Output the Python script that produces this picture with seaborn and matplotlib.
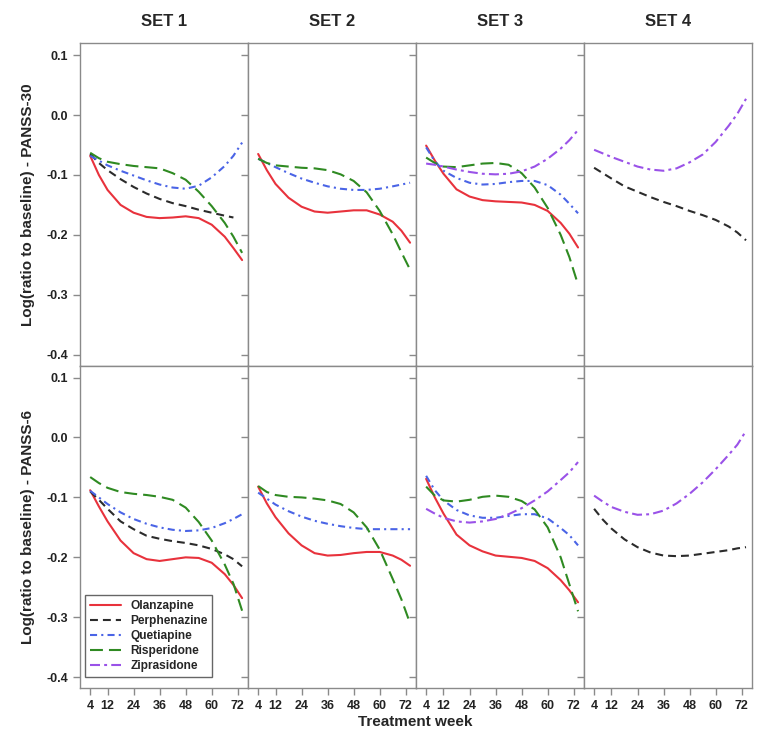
import matplotlib
matplotlib.use("Agg")
import matplotlib.pyplot as plt
import seaborn as sns
import numpy as np
import pandas as pd
from matplotlib.lines import Line2D

# treatment weeks at which the fitted curves were read
weeks = [4, 8, 12, 18, 24, 30, 36, 42, 48, 54, 60, 66, 70, 74]
sets = ["SET 1", "SET 2", "SET 3", "SET 4"]
drugs = ["Olanzapine", "Perphenazine", "Quetiapine", "Risperidone", "Ziprasidone"]
scales = ["PANSS-30", "PANSS-6"]

# PANSS-30 curves
p30_set1 = {
    "Olanzapine":   [-0.068, -0.100, -0.125, -0.150, -0.163, -0.170, -0.172, -0.171, -0.169, -0.172, -0.183, -0.203, -0.222, -0.242],
    "Perphenazine": [-0.065, -0.080, -0.092, -0.107, -0.120, -0.131, -0.140, -0.147, -0.152, -0.158, -0.163, -0.168, -0.171, np.nan],
    "Quetiapine":   [-0.068, -0.076, -0.084, -0.093, -0.101, -0.109, -0.116, -0.121, -0.123, -0.118, -0.104, -0.085, -0.068, -0.046],
    "Risperidone":  [-0.063, -0.072, -0.078, -0.082, -0.085, -0.087, -0.089, -0.097, -0.108, -0.128, -0.152, -0.180, -0.203, -0.230],
}
p30_set2 = {
    "Olanzapine":   [-0.065, -0.092, -0.115, -0.138, -0.153, -0.161, -0.163, -0.161, -0.159, -0.159, -0.166, -0.178, -0.193, -0.213],
    "Quetiapine":   [-0.073, -0.080, -0.087, -0.097, -0.106, -0.113, -0.119, -0.123, -0.125, -0.125, -0.123, -0.119, -0.116, -0.113],
    "Risperidone":  [-0.073, -0.080, -0.084, -0.086, -0.088, -0.089, -0.092, -0.099, -0.110, -0.129, -0.160, -0.199, -0.229, -0.258],
}
p30_set3 = {
    "Olanzapine":   [-0.051, -0.076, -0.098, -0.124, -0.136, -0.142, -0.144, -0.145, -0.146, -0.150, -0.160, -0.180, -0.198, -0.221],
    "Quetiapine":   [-0.054, -0.077, -0.093, -0.105, -0.113, -0.116, -0.115, -0.112, -0.110, -0.110, -0.117, -0.133, -0.148, -0.164],
    "Risperidone":  [-0.071, -0.080, -0.086, -0.087, -0.084, -0.081, -0.080, -0.083, -0.097, -0.121, -0.155, -0.200, -0.237, -0.283],
    "Ziprasidone":  [-0.081, -0.083, -0.086, -0.091, -0.095, -0.098, -0.099, -0.098, -0.094, -0.086, -0.073, -0.056, -0.042, -0.025],
}
p30_set4 = {
    "Perphenazine": [-0.088, -0.097, -0.106, -0.119, -0.128, -0.137, -0.145, -0.152, -0.160, -0.167, -0.175, -0.186, -0.196, -0.209],
    "Ziprasidone":  [-0.058, -0.064, -0.070, -0.078, -0.086, -0.091, -0.093, -0.089, -0.079, -0.066, -0.045, -0.018, 0.002, 0.027],
}

# PANSS-6 curves
p6_set1 = {
    "Olanzapine":   [-0.088, -0.115, -0.140, -0.172, -0.193, -0.203, -0.206, -0.203, -0.200, -0.201, -0.209, -0.228, -0.246, -0.268],
    "Perphenazine": [-0.090, -0.104, -0.119, -0.140, -0.153, -0.164, -0.169, -0.173, -0.176, -0.180, -0.186, -0.195, -0.203, -0.215],
    "Quetiapine":   [-0.089, -0.100, -0.111, -0.125, -0.136, -0.144, -0.150, -0.154, -0.156, -0.155, -0.151, -0.143, -0.136, -0.128],
    "Risperidone":  [-0.066, -0.076, -0.084, -0.091, -0.094, -0.096, -0.099, -0.104, -0.117, -0.141, -0.172, -0.212, -0.244, -0.289],
}
p6_set2 = {
    "Olanzapine":   [-0.082, -0.110, -0.133, -0.160, -0.180, -0.193, -0.197, -0.196, -0.193, -0.191, -0.191, -0.197, -0.204, -0.214],
    "Quetiapine":   [-0.092, -0.102, -0.112, -0.123, -0.132, -0.139, -0.144, -0.148, -0.151, -0.153, -0.153, -0.153, -0.153, -0.153],
    "Risperidone":  [-0.081, -0.091, -0.096, -0.099, -0.100, -0.102, -0.105, -0.111, -0.125, -0.150, -0.187, -0.236, -0.270, -0.310],
}
p6_set3 = {
    "Olanzapine":   [-0.069, -0.100, -0.127, -0.162, -0.180, -0.190, -0.197, -0.199, -0.201, -0.206, -0.218, -0.238, -0.255, -0.275],
    "Quetiapine":   [-0.064, -0.088, -0.105, -0.121, -0.130, -0.134, -0.134, -0.131, -0.128, -0.128, -0.135, -0.151, -0.163, -0.180],
    "Risperidone":  [-0.082, -0.097, -0.105, -0.107, -0.104, -0.099, -0.097, -0.099, -0.106, -0.120, -0.150, -0.200, -0.245, -0.290],
    "Ziprasidone":  [-0.119, -0.127, -0.134, -0.140, -0.142, -0.140, -0.136, -0.128, -0.118, -0.105, -0.090, -0.071, -0.058, -0.041],
}
p6_set4 = {
    "Perphenazine": [-0.119, -0.137, -0.152, -0.170, -0.183, -0.192, -0.197, -0.198, -0.197, -0.194, -0.191, -0.188, -0.185, -0.183],
    "Ziprasidone":  [-0.097, -0.107, -0.116, -0.124, -0.129, -0.128, -0.122, -0.110, -0.094, -0.075, -0.053, -0.029, -0.012, 0.011],
}

panels = {
    "PANSS-30": [p30_set1, p30_set2, p30_set3, p30_set4],
    "PANSS-6": [p6_set1, p6_set2, p6_set3, p6_set4],
}

rows = []
for scale in scales:
    for set_name, curves in zip(sets, panels[scale]):
        for drug, vals in curves.items():
            for w, v in zip(weeks, vals):
                rows.append((scale, set_name, drug, w, v))
df = pd.DataFrame(rows, columns=["scale", "set", "drug", "week", "value"]).dropna()

colors = {
    "Olanzapine": "#e8323c",
    "Perphenazine": "#2b2b2b",
    "Quetiapine": "#4a64e6",
    "Risperidone": "#2f8a22",
    "Ziprasidone": "#9a52e8",
}
dashes = {
    "Olanzapine": "",
    "Perphenazine": (3.8, 2.4),
    "Quetiapine": (3.4, 2.0, 1.0, 2.0),
    "Risperidone": (6.2, 2.9),
    "Ziprasidone": (4.8, 2.0, 1.4, 2.0),
}

sns.set_style("ticks")
plt.rcParams["font.family"] = ["Liberation Sans", "DejaVu Sans"]
plt.rcParams["font.weight"] = "bold"

fig, axes = plt.subplots(2, 4, sharex=True, sharey=True, figsize=(7.67, 7.43), dpi=100)
fig.subplots_adjust(left=0.104, right=0.980, top=0.942, bottom=0.074, wspace=0, hspace=0)

for r, scale in enumerate(scales):
    for c, set_name in enumerate(sets):
        ax = axes[r, c]
        sub = df[(df["scale"] == scale) & (df["set"] == set_name)]
        sns.lineplot(data=sub, x="week", y="value", hue="drug", style="drug",
                     palette=colors, dashes=dashes, linewidth=1.5,
                     legend=False, ax=ax)
        ax.set_xlim(-0.8, 76.6)
        ax.set_ylim(-0.418, 0.12)
        ax.set_xticks([4, 12, 24, 36, 48, 60, 72])
        ax.set_yticks([-0.4, -0.3, -0.2, -0.1, 0.0, 0.1])
        ax.set_yticklabels([f"{v:.1f}" for v in [-0.4, -0.3, -0.2, -0.1, 0.0, 0.1]])
        ax.set_xlabel("")
        ax.set_ylabel("")
        for s in ax.spines.values():
            s.set_color("#8a8a8a")
            s.set_linewidth(1.0)
        ax.tick_params(colors="#8a8a8a", labelcolor="#222222", length=5,
                       width=1.0, labelsize=9)
        if r == 0:
            ax.set_title(set_name, fontsize=12, fontweight="bold", pad=12)
        if c == 0:
            ax.set_ylabel(f"Log(ratio to baseline) - {scale}", fontsize=11,
                          fontweight="bold", labelpad=8)

fig.text(0.542, 0.028, "Treatment week", ha="center", va="center",
         fontsize=11, fontweight="bold")

handles = [Line2D([], [], color=colors[d], lw=1.5, dashes=dashes[d] if dashes[d] else (None, None),
                  linestyle="-") for d in drugs]
leg = axes[1, 0].legend(handles, drugs, loc="lower left", bbox_to_anchor=(0.03, 0.035),
                        borderaxespad=0, fancybox=False, handlelength=2.6,
                        labelspacing=0.25, edgecolor="#666666", framealpha=1,
                        prop={"weight": "bold", "size": 8.6})
leg.get_frame().set_linewidth(1.0)

fig.savefig("out.png", dpi=100)
